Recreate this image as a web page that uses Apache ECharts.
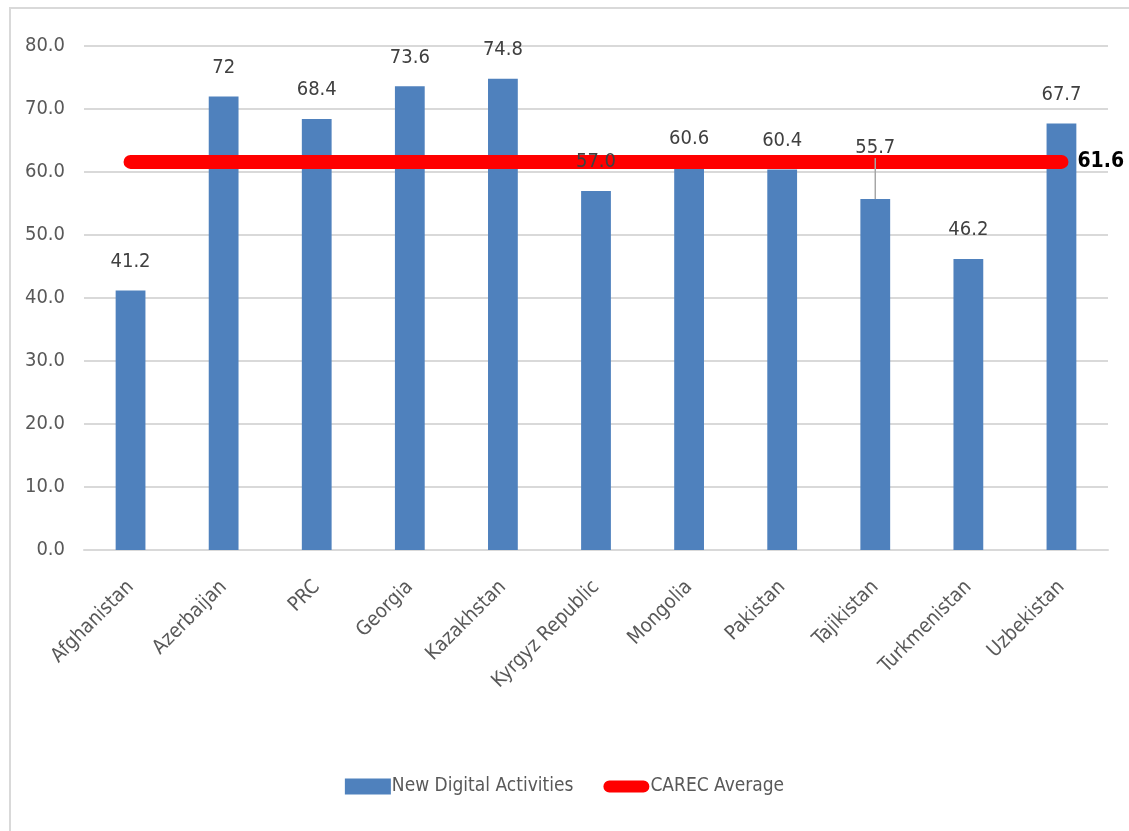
<!DOCTYPE html>
<html>
<head>
<meta charset="utf-8">
<script src="https://cdn.jsdelivr.net/npm/echarts@6/dist/echarts.min.js"></script>
<style>
  html, body { margin: 0; padding: 0; background: #fff; }
  #frame { position: absolute; left: 9px; top: 7px; width: 1300px; height: 1000px; border: 2px solid #d9d9d9; box-sizing: border-box; }
  #chart { position: absolute; left: 0; top: 0; width: 1129px; height: 831px; }
</style>
</head>
<body>
<div id="frame"></div>
<div id="chart"></div>
<script>
// CAREC economies
const categories = ['Afghanistan', 'Azerbaijan', 'PRC', 'Georgia', 'Kazakhstan', 'Kyrgyz Republic', 'Mongolia', 'Pakistan', 'Tajikistan', 'Turkmenistan', 'Uzbekistan'];
// New Digital Activities score per economy
const digitalValues = [41.2, 72, 68.4, 73.6, 74.8, 57.0, 60.6, 60.4, 55.7, 46.2, 67.7];
// value labels as printed above each bar
const digitalLabels = ['41.2', '72', '68.4', '73.6', '74.8', '57.0', '60.6', '60.4', '55.7', '46.2', '67.7'];
// regional average
const carecAverage = 61.6;
const yTicks = [0, 10, 20, 30, 40, 50, 60, 70, 80];

const FONT = "'Liberation Sans Narrow', 'DejaVu Sans Condensed', 'Open Sans', sans-serif";
const chart = echarts.init(document.getElementById('chart'), null, { renderer: 'canvas' });

const avgData = categories.map(() => carecAverage);

// label overlay items: Tajikistan's label is lifted with a guide line down to its bar
const labelItems = digitalValues.map((v, i) => ({
  value: v,
  labelLine: { show: categories[i] === 'Tajikistan', lineStyle: { color: '#a6a6a6', width: 1.5 } }
}));

chart.setOption({
  backgroundColor: 'transparent',
  animation: false,
  textStyle: { fontFamily: FONT },
  grid: { left: 84, right: 21, top: 46, bottom: 281, containLabel: false },
  legend: {
    bottom: 30,
    left: 'center',
    itemGap: 30,
    itemWidth: 46,
    itemHeight: 16,
    textStyle: { fontFamily: FONT, fontSize: 19, color: '#595959', padding: [0, 0, 0, -4] },
    data: [
      { name: 'New Digital Activities', icon: 'rect' },
      { name: 'CAREC Average', icon: 'path://M7,0 L47,0 A7,7 0 0 1 47,14 L7,14 A7,7 0 0 1 7,0 Z' }
    ]
  },
  xAxis: {
    type: 'category',
    data: categories,
    axisLine: { lineStyle: { color: '#d9d9d9', width: 2 } },
    axisTick: { show: false },
    axisLabel: {
      rotate: 45,
      interval: 0,
      margin: 34,
      fontFamily: FONT,
      fontSize: 20,
      color: '#595959'
    }
  },
  yAxis: {
    type: 'value',
    min: yTicks[0],
    max: yTicks[yTicks.length - 1],
    interval: 10,
    axisLine: { show: false },
    axisTick: { show: false },
    splitLine: { lineStyle: { color: '#d9d9d9', width: 2 } },
    axisLabel: {
      margin: 19,
      fontFamily: FONT,
      fontSize: 20,
      color: '#595959',
      formatter: v => v.toFixed(1)
    }
  },
  series: [
    {
      name: 'New Digital Activities',
      type: 'bar',
      data: digitalValues,
      barWidth: '32%',
      z: 2,
      itemStyle: { color: '#4f81bd' }
    },
    {
      name: 'CAREC Average',
      type: 'line',
      data: avgData,
      symbol: 'none',
      z: 3,
      itemStyle: { color: '#ff0000' },
      lineStyle: { color: '#ff0000', width: 14, cap: 'round' },
      endLabel: {
        show: true,
        formatter: () => carecAverage.toFixed(1),
        fontFamily: FONT,
        fontSize: 21,
        fontWeight: 'bold',
        color: '#000',
        distance: 16
      }
    },
    {
      // transparent twin of the bars that carries the value labels above the average line
      name: 'labels',
      type: 'bar',
      data: labelItems,
      barWidth: '32%',
      barGap: '-100%',
      z: 5,
      silent: true,
      itemStyle: { color: 'rgba(0,0,0,0)' },
      label: {
        show: true,
        position: 'top',
        distance: 19,
        fontFamily: FONT,
        fontSize: 20,
        color: '#404040',
        formatter: p => digitalLabels[p.dataIndex]
      },
      labelLayout: p => (categories[p.dataIndex] === 'Tajikistan' ? { dy: -22 } : {})
    }
  ]
});
</script>
</body>
</html>
